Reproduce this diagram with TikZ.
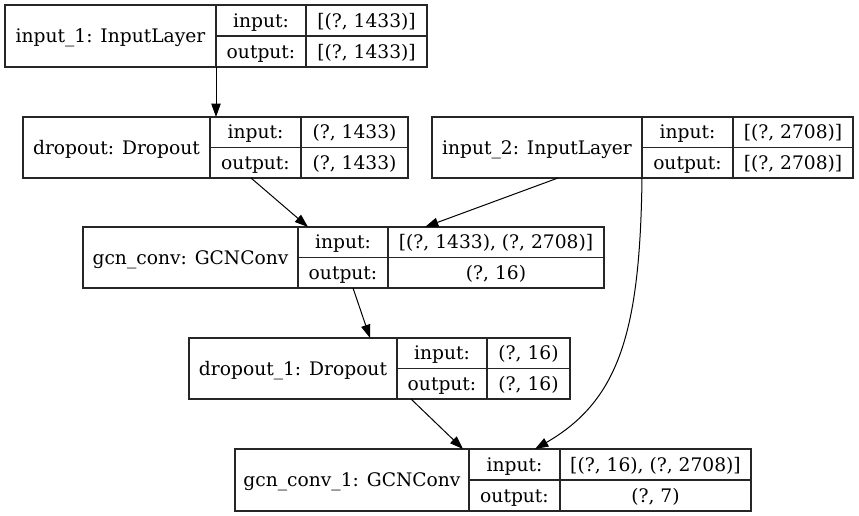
\documentclass[tikz,border=0pt]{standalone}
\usepackage{fontspec}
\setmainfont{DejaVu Serif}
\usetikzlibrary{arrows.meta,calc}
\newcommand\layer[8]{\def\Ln{#1}\def\Lxa{#2}\def\Lya{#3}\def\Lxb{#4}\def\Lyb{#5}\def\Lda{#6}\def\Ldb{#7}\def\Llab{#8}\layerB}
\newcommand\layerB[2]{%
  \pgfmathsetmacro\Lym{(\Lya+\Lyb)/2}%
  \pgfmathsetmacro\Lw{(\Lxb-\Lxa)*0.75}%
  \pgfmathsetmacro\Lh{(\Lyb-\Lya)*0.75}%
  \node[frame, minimum width=\Lw pt, minimum height=\Lh pt] (\Ln) at ({(\Lxa+\Lxb)/2},\Lym) {};
  \draw[divider] (\Lda,\Lya) -- (\Lda,\Lyb);
  \draw[divider] (\Ldb,\Lya) -- (\Ldb,\Lyb);
  \draw[divider] (\Lda,\Lym) -- (\Lxb,\Lym);
  \node[cell] (\Ln-label) at ({(\Lxa+\Lda)/2},\Lym) {\Llab};
  \node[cell] (\Ln-ik) at ({(\Lda+\Ldb)/2},{(\Lya+\Lym)/2}) {input:};
  \node[cell] (\Ln-ok) at ({(\Lda+\Ldb)/2},{(\Lym+\Lyb)/2}) {output:};
  \node[cell] (\Ln-iv) at ({(\Ldb+\Lxb)/2},{(\Lya+\Lym)/2}) {#1};
  \node[cell] (\Ln-ov) at ({(\Ldb+\Lxb)/2},{(\Lym+\Lyb)/2}) {#2};
}
\begin{document}
\begin{tikzpicture}[x=0.75pt,y=-0.75pt,
  cell/.style={inner sep=0pt, text height=10pt, text depth=0pt, font=\fontsize{14}{16}\selectfont},
  frame/.style={draw=black!85, line width=0.9pt, inner sep=0pt, outer sep=0pt, rectangle},
  divider/.style={draw=black!85, line width=0.9pt},
  conn/.style={draw=black, line width=0.75pt, -{Triangle[length=10pt,width=7pt]}}]
\path[use as bounding box, fill=white] (0,0) rectangle (859,516);

\layer{in1}{5}{5}{427}{67}{216}{306}{input\_1: InputLayer}{[(?, 1433)]}{[(?, 1433)]}
\layer{drop}{23}{117}{408}{178}{210}{301}{dropout: Dropout}{(?, 1433)}{(?, 1433)}
\layer{in2}{432}{117}{853}{178}{642}{733}{input\_2: InputLayer}{[(?, 2708)]}{[(?, 2708)]}
\layer{gcn}{83}{227}{604}{288}{298}{388}{gcn\_conv: GCNConv}{[(?, 1433), (?, 2708)]}{(?, 16)}
\layer{drop1}{189}{338}{570}{399}{397}{487}{dropout\_1: Dropout}{(?, 16)}{(?, 16)}
\layer{gcn1}{235}{449}{751}{511}{469}{560}{gcn\_conv\_1: GCNConv}{[(?, 16), (?, 2708)]}{(?, 7)}

\draw[conn] ($(in1.south west)+(211,0)$) -- ($(drop.north west)+(193,0)$);
\draw[conn] ($(drop.south west)+(228,0)$) -- ($(gcn.north west)+(225,0)$);
\draw[conn] ($(in2.south west)+(126,0)$) -- ($(gcn.north west)+(342,0)$);
\draw[conn] ($(gcn.south west)+(270,0)$) -- ($(drop1.north west)+(181,0)$);
\draw[conn] ($(drop1.south west)+(222,0)$) -- ($(gcn1.north west)+(228,0)$);
\draw[conn] ($(in2.south west)+(210,0)$) .. controls (640,330) and (620,400) .. ($(gcn1.north west)+(300,0)$);
\end{tikzpicture}
\end{document}
